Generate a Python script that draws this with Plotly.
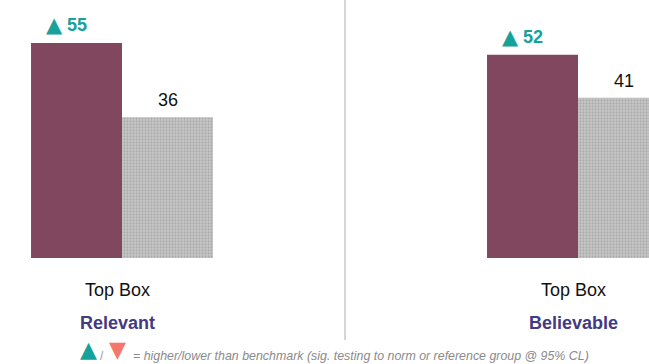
import plotly.graph_objects as go

categories = ["Relevant", "Believable"]
sub_label = "Top Box"
brand_values = [55, 52]
benchmark_values = [36, 41]
brand_sig = ["up", "up"]
footer_text = "= higher/lower than benchmark (sig. testing to norm or reference group @ 95% CL)"

PURPLE = "#80475f"
TEAL = "#17a19c"
SALMON = "#f4776a"
NAVY = "#423a82"
FONT = "Liberation Sans, Arial, sans-serif"
PLOT_H = 258  # plot area height in px


def py(p):
    """pixel row -> paper y"""
    return (PLOT_H - p) / PLOT_H


def px(p):
    """pixel column -> paper x"""
    return p / 649


arrow = {"up": "▲", "down": "▼", "": ""}
arrow_color = {"up": TEAL, "down": SALMON, "": TEAL}

fig = go.Figure()
fig.add_trace(go.Bar(
    x=categories, y=brand_values, name="Brand",
    marker=dict(color=PURPLE, line=dict(width=0)),
))
fig.add_trace(go.Bar(
    x=categories, y=benchmark_values, name="Benchmark",
    marker=dict(color="#bdbdbd", line=dict(width=0),
                pattern=dict(shape=".", size=3, solidity=0.45, fgcolor="#8f8f8f", bgcolor="#c8c8c8")),
))

half = 45.5
for c, v, s in zip(categories, brand_values, brand_sig):
    fig.add_annotation(x=c, y=v, xref="x", yref="y", xshift=-half, yshift=18,
                       yanchor="middle", xanchor="center", showarrow=False,
                       text=f"<b>{v}</b>",
                       font=dict(size=18, color=arrow_color[s], family=FONT))
    fig.add_annotation(x=c, y=v, xref="x", yref="y", xshift=-half - 12, yshift=18,
                       yanchor="middle", xanchor="right", showarrow=False,
                       text=arrow[s],
                       font=dict(size=21, color=arrow_color[s], family="DejaVu Sans"))
for c, v in zip(categories, benchmark_values):
    fig.add_annotation(x=c, y=v, xref="x", yref="y", xshift=half, yshift=17,
                       yanchor="middle", xanchor="center", showarrow=False,
                       text=str(v),
                       font=dict(size=18, color="#111111", family=FONT))

for c in categories:
    fig.add_annotation(x=c, xref="x", y=py(290), yref="paper", yanchor="middle", xshift=-5,
                       text=sub_label, showarrow=False,
                       font=dict(size=18, color="#111111", family=FONT))
    fig.add_annotation(x=c, xref="x", y=py(323), yref="paper", yanchor="middle", xshift=-5,
                       text=f"<b>{c}</b>", showarrow=False,
                       font=dict(size=18, color=NAVY, family=FONT))

# footer legend
fig.add_annotation(x=px(88.5), xref="paper", y=py(364), yref="paper", yanchor="bottom",
                   xanchor="center", text="▲", showarrow=False,
                   font=dict(size=22, color=TEAL, family="DejaVu Sans"))
fig.add_annotation(x=px(102), xref="paper", y=py(356), yref="paper", yanchor="middle",
                   xanchor="center", text="/", showarrow=False,
                   font=dict(size=12, color="#999999", family=FONT))
fig.add_annotation(x=px(117), xref="paper", y=py(364), yref="paper", yanchor="bottom",
                   xanchor="center", text="▼", showarrow=False,
                   font=dict(size=22, color=SALMON, family="DejaVu Sans"))
fig.add_annotation(x=px(131), xref="paper", y=py(356), yref="paper", yanchor="middle",
                   xanchor="left", text=f"<i>{footer_text}</i>", showarrow=False,
                   font=dict(size=12.4, color="#8a8a8a", family=FONT))

fig.add_shape(type="line", xref="paper", yref="paper",
              x0=px(345), x1=px(345), y0=1, y1=py(340),
              line=dict(color="#d6d6d6", width=2))

fig.update_layout(
    width=649, height=364,
    margin=dict(l=0, r=0, t=0, b=364 - PLOT_H),
    paper_bgcolor="white", plot_bgcolor="white",
    barmode="group", bargap=0.601, bargroupgap=0,
    showlegend=False,
    font=dict(family=FONT),
    xaxis=dict(range=[-122 / 456, 527 / 456], showticklabels=False, showgrid=False,
               zeroline=False, showline=False, fixedrange=True),
    yaxis=dict(range=[0, 66], visible=False, fixedrange=True),
)

fig.write_html("out.html", config={"displayModeBar": False},
               post_script="document.body.style.margin='0';")
